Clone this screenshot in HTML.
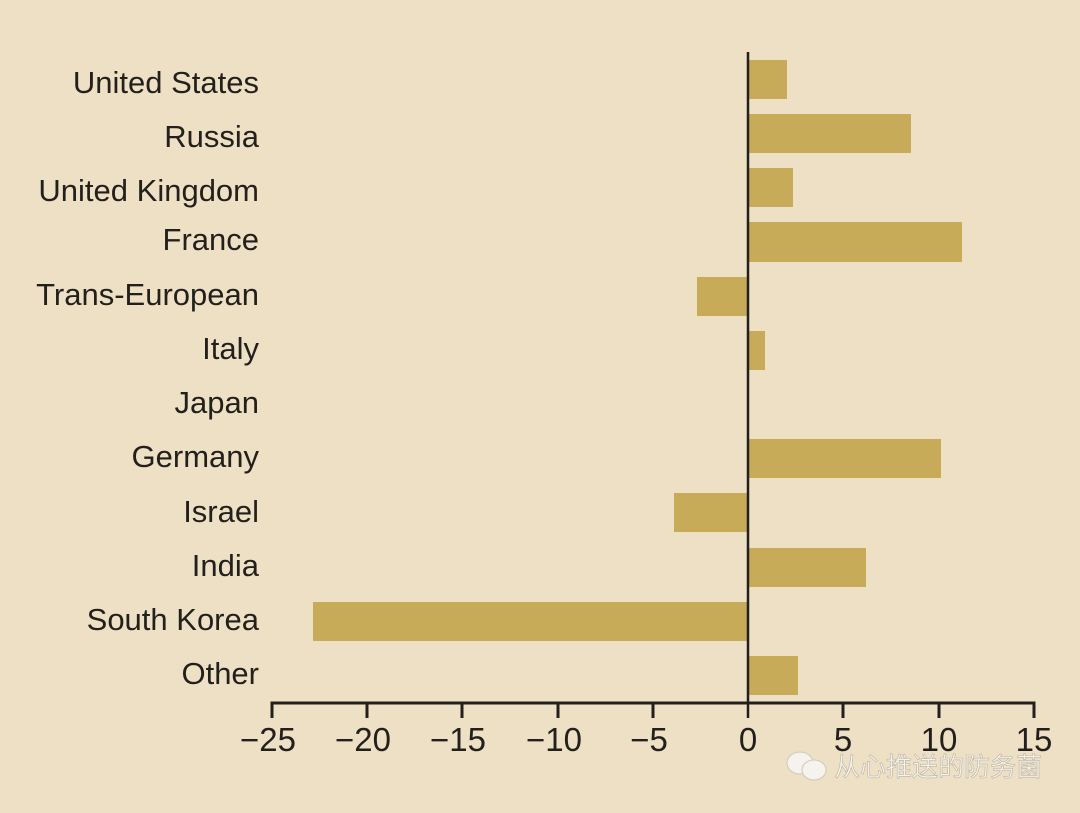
<!DOCTYPE html>
<html><head><meta charset="utf-8"><style>
html,body{margin:0;padding:0;background:#ede0c4;}
svg{display:block}
text{font-family:"Liberation Sans",sans-serif;fill:#231f1c}
</style></head><body>
<svg width="1080" height="813" viewBox="0 0 1080 813">
<rect width="1080" height="813" fill="#ede0c4"/>
<g fill="#c8ab59">
<rect x="749" y="60" width="38" height="39"/>
<rect x="749" y="114" width="162" height="39"/>
<rect x="749" y="168" width="44" height="39"/>
<rect x="749" y="222" width="213" height="40"/>
<rect x="697" y="277" width="52" height="39"/>
<rect x="749" y="331" width="16" height="39"/>
<rect x="749" y="439" width="192" height="39"/>
<rect x="674" y="493" width="75" height="39"/>
<rect x="749" y="548" width="117" height="39"/>
<rect x="313" y="602" width="436" height="39"/>
<rect x="749" y="656" width="49" height="39"/>
</g>
<g font-size="31" text-anchor="end">
<text x="259" y="93">United States</text>
<text x="259" y="147">Russia</text>
<text x="259" y="201">United Kingdom</text>
<text x="259" y="250">France</text>
<text x="259" y="305">Trans-European</text>
<text x="259" y="359">Italy</text>
<text x="259" y="413">Japan</text>
<text x="259" y="467">Germany</text>
<text x="259" y="522">Israel</text>
<text x="259" y="576">India</text>
<text x="259" y="630">South Korea</text>
<text x="259" y="684">Other</text>
</g>
<g stroke="#231f1c">
<line x1="748" y1="52" x2="748" y2="718" stroke-width="2.5"/>
<line x1="270.5" y1="703" x2="1035.5" y2="703" stroke-width="3"/>
<line x1="272" y1="703" x2="272" y2="718" stroke-width="3"/>
<line x1="367" y1="703" x2="367" y2="718" stroke-width="3"/>
<line x1="462" y1="703" x2="462" y2="718" stroke-width="3"/>
<line x1="558" y1="703" x2="558" y2="718" stroke-width="3"/>
<line x1="653" y1="703" x2="653" y2="718" stroke-width="3"/>
<line x1="843" y1="703" x2="843" y2="718" stroke-width="3"/>
<line x1="939" y1="703" x2="939" y2="718" stroke-width="3"/>
<line x1="1034" y1="703" x2="1034" y2="718" stroke-width="3"/>
</g>
<g font-size="33" text-anchor="middle">
<text x="268" y="751">−25</text>
<text x="363" y="751">−20</text>
<text x="458" y="751">−15</text>
<text x="554" y="751">−10</text>
<text x="649" y="751">−5</text>
<text x="748" y="751">0</text>
<text x="843" y="751">5</text>
<text x="939" y="751">10</text>
<text x="1034" y="751">15</text>
</g>
<g fill="#f6f3ee" stroke="#cfc8b8" stroke-width="1">
<ellipse cx="800" cy="763" rx="13" ry="11"/>
<ellipse cx="814" cy="770" rx="12" ry="10"/>
</g>
<text x="834" y="776" font-size="26" style="font-family:'Liberation Sans','Noto Sans CJK SC',sans-serif;fill:#f6f3ee;stroke:#b8b0a0;stroke-width:0.6">从心推送的防务菌</text>
</svg>
</body></html>
